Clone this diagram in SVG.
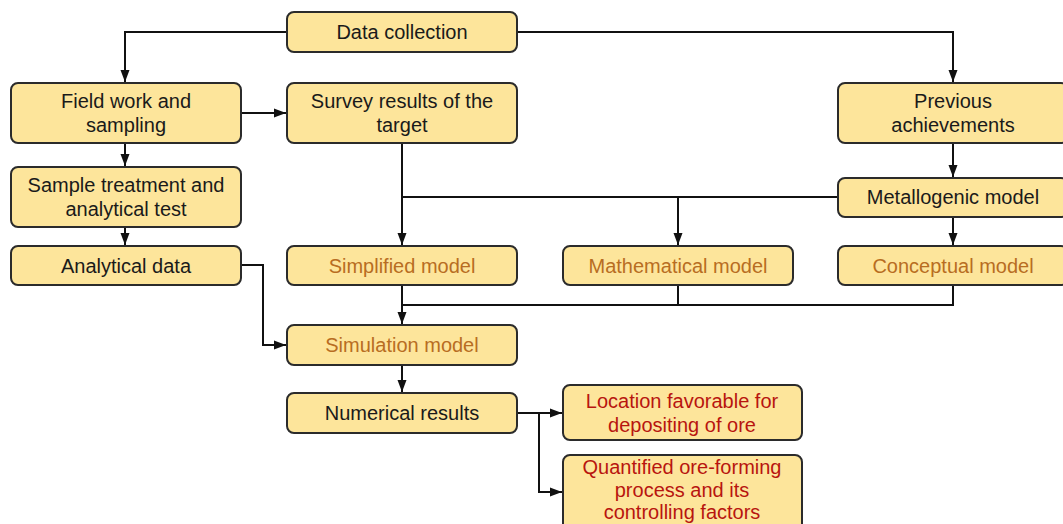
<svg xmlns="http://www.w3.org/2000/svg" width="1063" height="524" viewBox="0 0 1063 524">
<style>
.box{fill:#fde59b;stroke:#2b2b2b;stroke-width:2}
text{font-family:"Liberation Sans",Arial,sans-serif;font-size:20px;text-anchor:middle;dominant-baseline:central}
.k{fill:#1a1a1a}
.o{fill:#b86d22}
.r{fill:#b8150f}
.c{fill:none;stroke:#111;stroke-width:2}
</style>
<defs>
<marker id="ah" viewBox="0 0 12 10" refX="12" refY="5" markerWidth="12" markerHeight="10" markerUnits="userSpaceOnUse" orient="auto">
<path d="M0,0.5 L12,5 L0,9.5 z" fill="#111"/>
</marker>
</defs>
<rect width="1063" height="524" fill="#fff"/>
<g id="connectors">
<path class="c" d="M287,32 H125 V82" marker-end="url(#ah)"/>
<path class="c" d="M517,32 H953 V82" marker-end="url(#ah)"/>
<path class="c" d="M241,113 H286" marker-end="url(#ah)"/>
<path class="c" d="M125,143 V166" marker-end="url(#ah)"/>
<path class="c" d="M125,227 V245" marker-end="url(#ah)"/>
<path class="c" d="M402,143 V245" marker-end="url(#ah)"/>
<path class="c" d="M838,197 H402"/>
<path class="c" d="M678,197 V245" marker-end="url(#ah)"/>
<path class="c" d="M953,143 V177" marker-end="url(#ah)"/>
<path class="c" d="M953,217 V245" marker-end="url(#ah)"/>
<path class="c" d="M402,286 V324" marker-end="url(#ah)"/>
<path class="c" d="M402,305 H953 V286"/>
<path class="c" d="M678,286 V305"/>
<path class="c" d="M241,265 H263 V345 H286" marker-end="url(#ah)"/>
<path class="c" d="M402,365 V392" marker-end="url(#ah)"/>
<path class="c" d="M517,413 H562" marker-end="url(#ah)"/>
<path class="c" d="M539,413 V492 H562" marker-end="url(#ah)"/>
</g>
<g id="data-collection"><rect class="box" x="287" y="12" width="230" height="40" rx="7"/><text class="k" x="402" y="32">Data collection</text></g>
<g id="field-work"><rect class="box" x="11" y="83" width="230" height="60" rx="7"/><text class="k" x="126" y="101">Field work and</text><text class="k" x="126" y="125">sampling</text></g>
<g id="survey-results"><rect class="box" x="287" y="83" width="230" height="60" rx="7"/><text class="k" x="402" y="101">Survey results of the</text><text class="k" x="402" y="125">target</text></g>
<g id="previous-achievements"><rect class="box" x="838" y="83" width="230" height="60" rx="7"/><text class="k" x="953" y="101">Previous</text><text class="k" x="953" y="125">achievements</text></g>
<g id="sample-treatment"><rect class="box" x="11" y="167" width="230" height="60" rx="7"/><text class="k" x="126" y="185">Sample treatment and</text><text class="k" x="126" y="209">analytical test</text></g>
<g id="metallogenic-model"><rect class="box" x="838" y="178" width="230" height="39" rx="7"/><text class="k" x="953" y="197">Metallogenic model</text></g>
<g id="analytical-data"><rect class="box" x="11" y="246" width="230" height="39" rx="7"/><text class="k" x="126" y="266">Analytical data</text></g>
<g id="simplified-model"><rect class="box" x="287" y="246" width="230" height="39" rx="7"/><text class="o" x="402" y="266">Simplified model</text></g>
<g id="mathematical-model"><rect class="box" x="563" y="246" width="230" height="39" rx="7"/><text class="o" x="678" y="266">Mathematical model</text></g>
<g id="conceptual-model"><rect class="box" x="838" y="246" width="230" height="39" rx="7"/><text class="o" x="953" y="266">Conceptual model</text></g>
<g id="simulation-model"><rect class="box" x="287" y="325" width="230" height="40" rx="7"/><text class="o" x="402" y="345">Simulation model</text></g>
<g id="numerical-results"><rect class="box" x="287" y="393" width="230" height="40" rx="7"/><text class="k" x="402" y="413">Numerical results</text></g>
<g id="location-favorable"><rect class="box" x="563" y="385" width="239" height="55" rx="7"/><text class="r" x="682" y="401">Location favorable for</text><text class="r" x="682" y="425">depositing of ore</text></g>
<g id="quantified-process"><rect class="box" x="563" y="455" width="239" height="80" rx="7"/><text class="r" x="682" y="467">Quantified ore-forming</text><text class="r" x="682" y="490">process and its</text><text class="r" x="682" y="512">controlling factors</text></g>
</svg>
